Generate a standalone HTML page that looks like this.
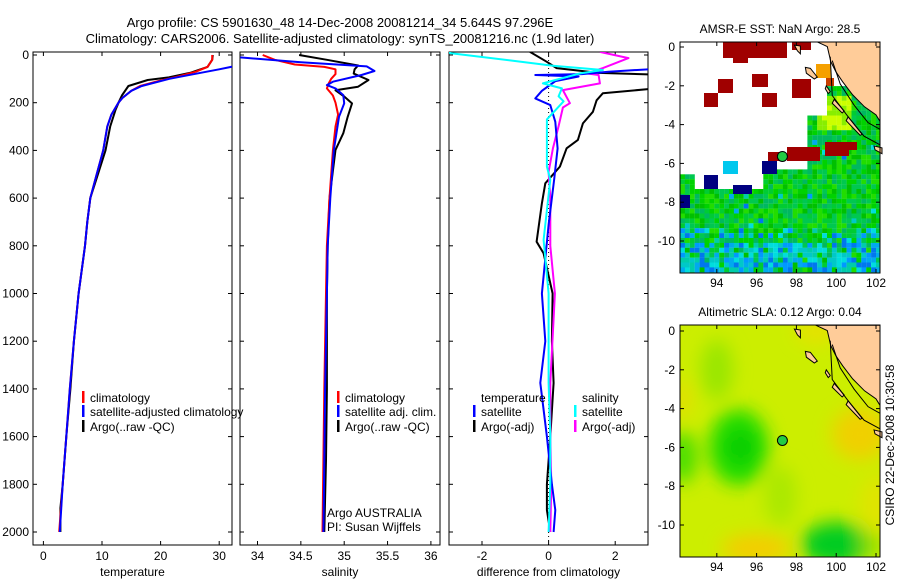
<!DOCTYPE html>
<html><head><meta charset="utf-8">
<style>
html,body{margin:0;padding:0;background:#fff;}
svg{display:block;font-family:"Liberation Sans",sans-serif;}
text{font-size:12px;fill:#000;}
</style></head>
<body>
<svg id="fig" width="900" height="580" viewBox="0 0 900 580" xmlns="http://www.w3.org/2000/svg">
<defs>
<filter id="blur" x="-20%" y="-20%" width="140%" height="140%"><feGaussianBlur stdDeviation="9"/></filter>
<clipPath id="clipP1"><rect x="33" y="52" width="199" height="493"/></clipPath>
<clipPath id="clipP2"><rect x="240" y="52" width="200" height="493"/></clipPath>
<clipPath id="clipP3"><rect x="449" y="52" width="199" height="493"/></clipPath>
<clipPath id="clipM1"><rect x="680" y="42" width="200" height="231"/></clipPath>
<clipPath id="clipM2"><rect x="680" y="325" width="200" height="232"/></clipPath>
</defs>
<text x="340" y="27" text-anchor="middle" style="font-size:13px">Argo profile: CS 5901630_48 14-Dec-2008 20081214_34 5.644S 97.296E</text>
<text x="340" y="43" text-anchor="middle" style="font-size:13px">Climatology: CARS2006. Satellite-adjusted climatology: synTS_20081216.nc (1.9d later)</text>
<g id="g1"></g>
<g id="g2"></g>
<g id="g3"></g>
<g id="m1"></g>
<g id="m2"></g>
<text transform="translate(894,445) rotate(-90)" text-anchor="middle">CSIRO 22-Dec-2008 10:30:58</text>
</svg>
<script>
// ---- data ----
const tClimD = [0,20,50,70,90,110,130,150,180,200,250,300,400,500,600,700,800,1000,1200,1400,1600,1800,2000];
const tClimV = [28.8,28.8,28,26,23,19.5,16.5,15,13.5,12.8,11.6,10.9,10.2,9.1,8,7.5,7.1,6,5.2,4.5,3.9,3.3,2.7];
const tSatD = [40,60,85,100,130,150,180,200,250,300,400,500,600,700,800,1000,1200,1400,1600,1800,2000];
const tSatV = [34,30,24.6,21.5,16.8,15,13.5,12.8,11.6,10.9,10.2,9.1,8,7.5,7.1,6,5.2,4.5,3.9,3.3,2.8];
const tArgoD = [0,20,50,75,94,105,130,170,190,230,300,400,500,600,700,800,1000,1200,1400,1600,1800,1900,2000];
const tArgoV = [28.9,28.8,28,25,21.4,17.8,14.5,13.4,13,12.3,11.4,10.6,9.3,8,7.5,7.1,6,5.2,4.6,3.9,3.3,2.9,2.9];

const sClimD = [0,20,40,50,60,80,100,120,140,170,200,250,300,400,600,800,1000,1400,1700,2000];
const sClimV = [34.06,34.2,34.43,34.77,34.9,34.9,34.85,34.82,34.8,34.87,34.9,34.93,34.9,34.87,34.83,34.8,34.79,34.77,34.76,34.75];
const sSatD = [10,30,48,67,84,112,126,140,168,203,259,400,600,800,1000,1400,1700,2000];
const sSatV = [33.8,34.5,35.26,35.35,35.2,34.87,34.8,34.9,34.99,35.0,34.94,34.88,34.84,34.81,34.8,34.78,34.77,34.76];
const sArgoD = [0,20,44,60,78,105,133,148,174,203,259,328,398,600,800,1000,1400,1700,2000];
const sArgoV = [34.48,34.8,35.16,35.12,35.11,35.28,35.16,34.9,35.0,35.09,35.04,34.99,34.9,34.83,34.81,34.8,34.8,34.79,34.77];

const dTSatD = [55,70,80,84,90,110,130,150,182,210,280,392,517,712,1000,1200,1375,1600,1800,1908,2000];
const dTSatV = [3.6,1.8,1.0,-0.4,0.9,0.2,0.0,-0.2,-0.4,0.05,0.2,0.27,0.17,0.0,-0.2,-0.1,-0.25,-0.05,0.1,0.2,0.15];
const dTArgoD = [-13,28,55,75,84,95,120,143,160,190,238,287,356,391,468,538,622,783,832,1000,1200,1375,1600,1800,1908,2000];
const dTArgoV = [-0.56,-0.06,0.24,1.5,3.6,3.6,3.6,3.0,1.63,1.44,1.33,1.03,0.88,0.54,0.34,-0.1,-0.2,-0.36,-0.15,0.12,0.1,0.15,0.05,-0.05,-0.05,0.05];
const dSSatD = [-13,-8,24,45,63,77,119,140,173,194,270,356,468,523,775,1000,1375,1600,1800,2000];
const dSSatV = [-2.96,-2.96,-1.07,0.13,1.63,0.95,-0.17,0.4,0.3,0.45,-0.05,-0.05,-0.05,0.05,-0.15,0.0,0.0,0.05,0.05,0.0];
const dSArgoD = [-13,13,55,77,84,119,147,202,220,298,392,490,600,800,1000,1375,1600,1800,2000];
const dSArgoV = [1.54,2.4,1.63,1.14,1.5,1.54,0.43,0.64,0.43,0.3,0.13,0.0,0.05,0.05,0.19,0.05,0.05,0.08,0.05];

const depthTicks = [0,200,400,600,800,1000,1200,1400,1600,1800,2000];
const tempTicks = [0,10,20,30];
const salTicks = [34,34.5,35,35.5,36];
const salTickLabels = ["34","34.5","35","35.5","36"];
const diffTicks = [-2,0,2];
const lonTicks = [94,96,98,100,102];
const latTicks = [0,-2,-4,-6,-8,-10];
const argoLon = 97.296, argoLat = -5.644;
const landLon = [98.97,99.55,99.73,99.98,100.32,100.83,101.42,102.0,102.3,102.3];
const landLat = [0.3,0.02,-0.76,-1.27,-1.79,-2.47,-3.08,-3.5,-4.0,0.3];

// ---- helpers ----
const NS='http://www.w3.org/2000/svg';
function mk(parent,tag,attrs,txt){const e=document.createElementNS(NS,tag);for(const k in attrs)e.setAttribute(k,attrs[k]);if(txt!==undefined)e.textContent=txt;parent.appendChild(e);return e;}
const yD = d => 55 + d*0.2385;

function panel(g,x0,x1,xs,ticks,labels,xlabel,clip,showY){
  const fr=mk(g,'rect',{x:x0,y:52,width:x1-x0,height:493,fill:'none',stroke:'#000','stroke-width':1});
  
  
  depthTicks.forEach(d=>{
    const y=yD(d);
    mk(g,'line',{x1:x0,y1:y,x2:x0+4,y2:y,stroke:'#000'});
    mk(g,'line',{x1:x1-4,y1:y,x2:x1,y2:y,stroke:'#000'});
    if(showY){const t=mk(g,'text',{x:x0-4,y:y+4,'text-anchor':'end'},String(d));
      
      }
  });
  ticks.forEach((v,i)=>{
    const x=xs(v);
    mk(g,'line',{x1:x,y1:545,x2:x,y2:541,stroke:'#000'});
    mk(g,'line',{x1:x,y1:52,x2:x,y2:56,stroke:'#000'});
    const t=mk(g,'text',{x:x,y:560,'text-anchor':'middle'},labels[i]);
    
    
  });
  const xl=mk(g,'text',{x:(x0+x1)/2,y:576,'text-anchor':'middle'},xlabel);
  
  
}
function series(g,D,V,xs,color,clip,name,w){
  const pts=D.map((d,i)=>xs(V[i]).toFixed(1)+','+yD(d).toFixed(1)).join(' ');
  const p=mk(g,'polyline',{points:pts,fill:'none',stroke:color,'stroke-width':w||2,'clip-path':'url(#'+clip+')','stroke-linejoin':'round'});
  
  
}
function legend(g,x,y,color,label){
  if(color) mk(g,'rect',{x:x-8,y:y-7,width:2.5,height:12,fill:color});
  const t=mk(g,'text',{x:x,y:y+4},label);
  
  
}

// ---- panel 1 temperature ----
const g1=document.getElementById('g1');
const xT=t=>43.4+t*5.86;
panel(g1,33,232,xT,tempTicks,tempTicks.map(String),'temperature','clipP1',true);
series(g1,tArgoD,tArgoV,xT,'#000','clipP1','argo-temperature-line');
series(g1,tClimD,tClimV,xT,'#f00','clipP1','climatology-temperature-line');
series(g1,tSatD,tSatV,xT,'#00f','clipP1','satellite-temperature-line');
legend(g1,90,398,'#f00','climatology');
legend(g1,90,412,'#00f','satellite-adjusted climatology');
legend(g1,90,427,'#000','Argo(..raw -QC)');

// ---- panel 2 salinity ----
const g2=document.getElementById('g2');
const xS=s=>257.5+(s-34)*86.7;
panel(g2,240,440,xS,salTicks,salTickLabels,'salinity','clipP2',false);
series(g2,sArgoD,sArgoV,xS,'#000','clipP2','argo-salinity-line');
series(g2,sClimD,sClimV,xS,'#f00','clipP2','climatology-salinity-line');
series(g2,sSatD,sSatV,xS,'#00f','clipP2','satellite-salinity-line');
legend(g2,345,398,'#f00','climatology');
legend(g2,345,412,'#00f','satellite adj. clim.');
legend(g2,345,427,'#000','Argo(..raw -QC)');
const a1=mk(g2,'text',{x:327,y:517},'Argo AUSTRALIA');


const a2=mk(g2,'text',{x:327,y:531},'PI: Susan Wijffels');



// ---- panel 3 differences ----
const g3=document.getElementById('g3');
const xDf=v=>548.6+v*33.3;
panel(g3,449,648,xDf,diffTicks,diffTicks.map(String),'difference from climatology','clipP3',false);
mk(g3,'line',{x1:xDf(0),y1:52,x2:xDf(0),y2:545,stroke:'#000','stroke-dasharray':'1,3'});
series(g3,dTArgoD,dTArgoV,xDf,'#000','clipP3','argo-temperature-diff-line');
series(g3,dSArgoD,dSArgoV,xDf,'#f0f','clipP3','argo-salinity-diff-line');
series(g3,dTSatD,dTSatV,xDf,'#00f','clipP3','satellite-temperature-diff-line');
series(g3,dSSatD,dSSatV,xDf,'#0ff','clipP3','satellite-salinity-diff-line');
legend(g3,481,398,null,'temperature');
legend(g3,481,412,'#00f','satellite');
legend(g3,481,427,'#000','Argo(-adj)');
legend(g3,582,398,null,'salinity');
legend(g3,582,412,'#0ff','satellite');
legend(g3,582,427,'#f0f','Argo(-adj)');

// ---- maps ----
function hash(i,j){let h=(i*374761393+j*668265263)^0x5bd1e995;h=(h^(h>>>13))*1274126177;return ((h^(h>>>16))>>>0)/4294967296;}
function mapFrame(g,top,bot,lat0y,title,clip){
  const mx=lon=>680+(lon-92.15)*19.9;
  const my=lat=>lat0y-lat*19.4;
  return {mx,my,finish:function(){
    const lp=landLon.map((l,i)=>mx(l).toFixed(1)+','+my(landLat[i]).toFixed(1)).join(' ');
    const land=mk(g,'polygon',{points:lp,fill:'#ffcc99',stroke:'#000','stroke-width':1,'clip-path':'url(#'+clip+')'});
    
    
    mk(g,'polygon',{points:[[98.45,-1.05],[98.7,-1.1],[99.05,-1.55],[98.9,-1.65],[98.5,-1.35]].map(p=>mx(p[0])+','+my(p[1])).join(' '),fill:'#ffcc99',stroke:'#000'});
    mk(g,'polygon',{points:[[99.5,-2.0],[99.7,-2.3],[99.6,-2.4],[99.45,-2.15]].map(p=>mx(p[0])+','+my(p[1])).join(' '),fill:'#ffcc99',stroke:'#000'});
    mk(g,'polygon',{points:[[99.9,-2.7],[100.4,-3.3],[100.3,-3.4],[99.8,-2.9]].map(p=>mx(p[0])+','+my(p[1])).join(' '),fill:'#ffcc99',stroke:'#000'});
    mk(g,'polygon',{points:[[100.6,-3.6],[101.3,-4.5],[101.2,-4.55],[100.5,-3.8]].map(p=>mx(p[0])+','+my(p[1])).join(' '),fill:'#ffcc99',stroke:'#000'});
    mk(g,'polygon',{points:[[97.9,0.1],[98.2,0.05],[98.2,-0.35],[98.05,-0.2]].map(p=>mx(p[0])+','+my(p[1])).join(' '),fill:'#ffcc99',stroke:'#000'});
    mk(g,'polyline',{points:[[99.7,-0.5],[99.8,-2.5],[100.6,-3.6],[101.4,-4.6],[102.3,-5.1]].map(p=>mx(p[0])+','+my(p[1])).join(' '),fill:'none',stroke:'#000','clip-path':'url(#'+clip+')'});
    mk(g,'polyline',{points:[[99.8,-0.7],[100.2,-1.9],[100.9,-3.0],[101.6,-3.9],[102.3,-4.3]].map(p=>mx(p[0])+','+my(p[1])).join(' '),fill:'none',stroke:'#000','clip-path':'url(#'+clip+')'});
    mk(g,'polygon',{points:[[101.9,-5.1],[102.3,-5.2],[102.3,-5.5],[101.95,-5.3]].map(p=>mx(p[0])+','+my(p[1])).join(' '),fill:'#ffcc99',stroke:'#000'});
    const dot=mk(g,'circle',{cx:mx(argoLon),cy:my(argoLat),r:5,fill:'#22cc44',stroke:'#000','stroke-width':1});
    
    
    const fr=mk(g,'rect',{x:680,y:top,width:200,height:bot-top,fill:'none',stroke:'#000'});
    
    
    lonTicks.forEach(l=>{const x=mx(l);
      mk(g,'line',{x1:x,y1:bot,x2:x,y2:bot-4,stroke:'#000'});mk(g,'line',{x1:x,y1:top,x2:x,y2:top+4,stroke:'#000'});
      const t=mk(g,'text',{x:x,y:bot+14,'text-anchor':'middle'},String(l));
      
      });
    latTicks.forEach(l=>{const y=my(l);
      mk(g,'line',{x1:680,y1:y,x2:684,y2:y,stroke:'#000'});mk(g,'line',{x1:876,y1:y,x2:880,y2:y,stroke:'#000'});
      const t=mk(g,'text',{x:675,y:y+4,'text-anchor':'end'},String(l));
      
      });
    const tt=mk(g,'text',{x:780,y:top-9,'text-anchor':'middle'},title);
    
    
  }};
}
// map 1 SST
const m1=document.getElementById('m1');
const M1=mapFrame(m1,42,273,47,'AMSR-E SST: NaN Argo: 28.5','clipM1');
const cells=mk(m1,'g',{'clip-path':'url(#clipM1)'});
const greens=['#00c850','#00d200','#00b860','#22dd00','#00cc33','#00c000'];
const blues=['#00c8c8','#00aaee','#0099ff','#00dddd','#00ccaa','#0077ee'];
for(let i=0;i<41;i++)for(let j=0;j<48;j++){
  const x=680+i*4.9, y=42+j*4.9, h=hash(i,j);
  let c=null;
  const cx=x+2.5, cy=y+2.5;
  if(cy>191 || (cx<697&&cy>172) || (cx>762&&cy>170) || (cx>805&&cy>115) || (cx>828&&cy>85)){
    const blueFrac = cy>242?0.72:cy>228?0.35:cy>208?0.08:0.02;
    c = h<blueFrac ? blues[Math.floor(hash(j,i)*6)] : greens[Math.floor(hash(j+7,i)*6)];
    if(cx>815&&cx<850&&cy>95&&cy<130) c = h<0.5?'#ccff00':'#88ee00';
  }
  if(c) mk(cells,'rect',{x:x,y:y,width:5,height:5,fill:c});
}
[[723,42,64,16],[733,58,15,5],[792,42,19,8],[718,79,15,14],[704,93,14,14],[752,74,16,13],[762,93,15,14],[792,79,19,19],[787,147,33,14],[825,142,24,14],[768,152,14,9],[847,142,10,8]].forEach(r=>mk(cells,'rect',{x:r[0],y:r[1],width:r[2],height:r[3],fill:'#a00000'}));
[[704,175,14,14],[762,161,15,13],[733,185,19,9],[680,195,10,13]].forEach(r=>mk(cells,'rect',{x:r[0],y:r[1],width:r[2],height:r[3],fill:'#000080'}));
mk(cells,'rect',{x:723,y:161,width:15,height:13,fill:'#00c8ee'});
mk(cells,'rect',{x:816,y:64,width:15,height:14,fill:'#f5a000'});
mk(cells,'rect',{x:826,y:78,width:8,height:8,fill:'#c84000'});
M1.finish();

// map 2 SLA
const m2=document.getElementById('m2');
const M2=mapFrame(m2,325,557,331,'Altimetric SLA: 0.12 Argo: 0.04','clipM2');
const bg=mk(m2,'g',{'clip-path':'url(#clipM2)'});
mk(bg,'rect',{x:680,y:325,width:200,height:232,fill:'#ccee00'});
const blobs=mk(bg,'g',{filter:'url(#blur)'});
[[95.1,-6,30,38,'#22dd00'],[100,-11,35,22,'#00cc22'],[92.3,-6.5,14,26,'#44dd00'],[94,-2,16,30,'#99e600'],[97.2,-8.5,16,30,'#aae800'],[95.2,-6,14,18,'#00cc00'],
 [101.2,-5.3,28,26,'#f0d000'],[96,-11.2,35,14,'#f5cc00'],[99,0,20,12,'#e8e000'],[102,-9,16,30,'#e0e400'],[92.3,-3.5,8,20,'#e6dc00'],[101.8,-11,12,10,'#88dd00']
].forEach(b=>mk(blobs,'ellipse',{cx:M2.mx(b[0]),cy:M2.my(b[1]),rx:b[2],ry:b[3],fill:b[4]}));
M2.finish();
</script>
</body></html>
